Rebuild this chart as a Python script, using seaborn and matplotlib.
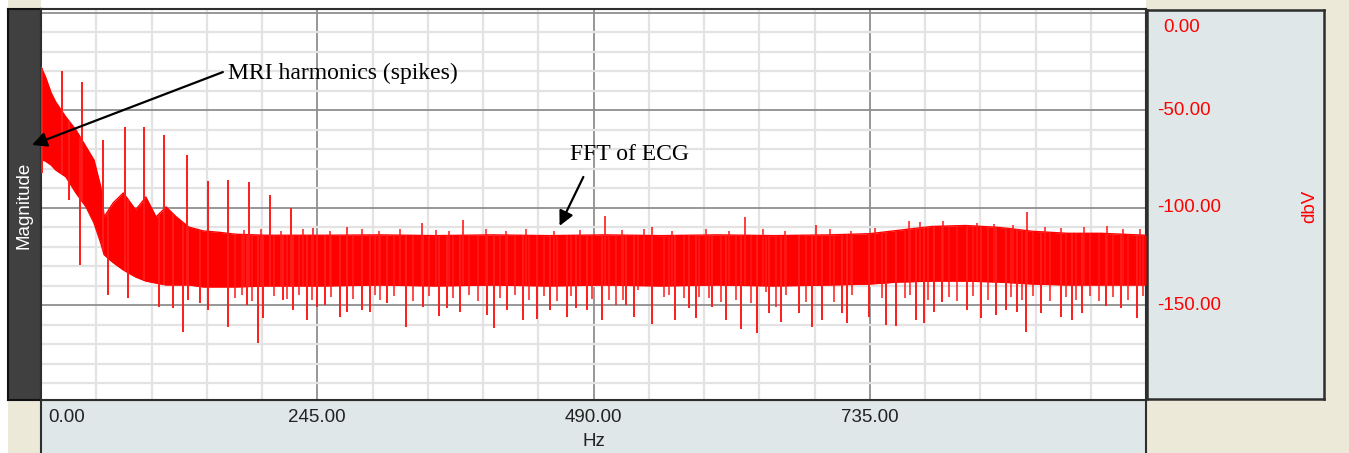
import numpy as np
import matplotlib
matplotlib.use("Agg")
import matplotlib.pyplot as plt
import matplotlib.transforms as mtransforms
from matplotlib.patches import Rectangle
import seaborn as sns

# ---------------- data ----------------
# dense FFT band: frequency (Hz), upper and lower edge (dBV)
env_freq = [0, 4, 9, 13, 22, 31, 40, 47, 53, 56, 64, 73, 84, 93, 102, 111, 120, 131, 144, 158,
            173, 200, 250, 300, 350, 400, 450, 500, 550, 600, 650, 700, 735, 760, 790, 820, 850,
            880, 910, 940, 980]
env_upper = [-27.7, -32.8, -41.0, -45.6, -53.3, -60.0, -68.7, -75.4, -89.2, -104.6, -97.4, -92.3,
             -101.0, -94.4, -104.6, -99.5, -104.6, -109.8, -111.8, -112.5, -113.5, -114.0, -114.0,
             -113.8, -114.2, -113.8, -114.2, -113.8, -114.2, -113.8, -114.2, -113.8, -113.2,
             -111.5, -109.5, -109.0, -110.0, -112.0, -113.0, -113.0, -114.0]
env_lower = [-75.0, -76.0, -78.0, -80.5, -84.0, -92.3, -99.5, -107.7, -118.0, -124.0, -128.0,
             -131.8, -135.4, -137.5, -138.5, -139.5, -139.5, -139.5, -140.5, -140.5, -140.5,
             -140.0, -140.0, -139.5, -140.0, -139.5, -140.0, -139.5, -140.0, -139.5, -140.0,
             -139.5, -139.0, -138.0, -137.5, -137.5, -138.0, -139.0, -139.5, -139.5, -139.5]

# MRI harmonic spikes
harm_freq = [18.6, 36.3, 54.9, 74.4, 91.3, 109.0, 129.4, 148.0, 165.7, 184.3, 202.9, 221.5]
harm_db = [-29.7, -35.4, -65.1, -58.5, -58.5, -62.6, -72.8, -86.2, -85.6, -86.7, -93.3, -100.0]

# isolated spikes above the band
peak_freq = [241.0, 271.0, 337.6, 373.9, 500.6, 542.3, 624.7, 687.6, 874.5]
peak_db = [-110.3, -109.7, -107.7, -106.2, -104.1, -109.7, -104.6, -108.7, -102.0]

# ragged top edge of the band
top_freq = [180, 195, 213, 232, 256, 285, 300, 318, 350, 362, 395, 412, 430, 455, 478, 515, 535,
            560, 590, 610, 640, 660, 700, 718, 740, 770, 780, 800, 830, 845, 862, 890, 905, 925,
            945, 960, 975]
top_db = [-111.5, -110.8, -112.0, -111.0, -111.8, -111.0, -112.0, -110.8, -111.5, -112.0, -110.7,
          -111.8, -111.0, -112.0, -111.2, -111.5, -110.8, -112.0, -111.0, -111.8, -110.8, -111.7,
          -111.0, -112.0, -110.5, -106.5, -107.0, -106.5, -107.8, -108.0, -108.5, -110.0, -110.5,
          -110.0, -109.5, -111.0, -110.8]

# long downward spikes below the band
dip_freq = [0.5, 24.8, 34.6, 59.4, 77.1, 104.6, 117.0, 125.8, 130.2, 140.9, 148.0, 165.7, 182.5,
            192.3, 196.7, 214.4, 223.3, 235.7, 244.6, 251.6, 264.9, 271.1, 284.4, 291.5, 306.6,
            323.4, 338.5, 352.6, 359.7, 371.2, 395.2, 401.4, 412.9, 427.1, 439.5, 451.0, 466.1,
            474.9, 483.8, 497.1, 519.2, 526.3, 542.3, 562.6, 575.0, 581.3, 595.4, 607.8, 621.1,
            635.3, 645.9, 656.6, 672.5, 684.0, 692.9, 710.6, 715.0, 734.5, 749.6, 758.5, 776.2,
            783.3, 792.1, 799.2, 821.4, 833.8, 847.1, 855.9, 865.6, 873.6, 886.9, 904.6, 914.4,
            923.2, 944.5, 957.8, 972.0]
dip_db = [-82.0, -95.9, -129.2, -144.6, -146.2, -150.8, -151.3, -163.6, -147.2, -148.7, -152.3,
          -161.0, -149.7, -169.2, -156.4, -147.2, -152.3, -157.4, -150.8, -149.7, -155.9, -153.4,
          -152.3, -153.4, -148.7, -161.0, -150.8, -155.4, -151.3, -153.4, -154.9, -161.5, -152.3,
          -157.4, -156.9, -152.3, -155.9, -151.3, -152.3, -157.4, -149.7, -155.9, -159.5, -157.4,
          -151.3, -156.4, -150.8, -157.4, -162.0, -164.1, -153.8, -158.5, -153.8, -161.0, -157.4,
          -153.8, -159.0, -155.9, -160.0, -160.5, -157.4, -159.0, -153.4, -148.2, -152.3, -156.4,
          -154.9, -152.3, -153.4, -163.6, -153.8, -155.9, -157.4, -153.8, -150.3, -151.3, -156.4]

# short downward spikes forming the ragged bottom edge
edge_freq = [172, 178, 187, 207, 218, 229, 240, 257, 277, 296, 301, 313, 330, 344, 365, 380, 388,
             407, 420, 433, 446, 458, 470, 489, 504.1, 510.0, 515.9, 529.2, 552.9, 557.3, 570.6,
             583.9, 592.7, 603.1, 616.3, 629.7, 643.0, 651.8, 660.7, 678.4, 703.5, 719.7, 746.3,
             766, 771, 787, 805, 812, 827, 840, 860, 870, 880, 895, 909, 918, 930, 938, 951, 964,
             977]
edge_db = [-146.0, -144.5, -147.5, -145.0, -146.5, -144.5, -147.0, -145.5, -146.5, -144.5, -147.0,
           -145.0, -147.5, -145.0, -146.0, -144.5, -147.5, -146.0, -144.5, -147.0, -145.0, -147.5,
           -145.0, -146.5, -147.2, -149.7, -147.2, -142.0, -145.5, -144.6, -146.3, -145.5, -146.3,
           -148.0, -147.2, -148.9, -142.9, -150.6, -144.6, -148.0, -148.0, -144.6, -146.3,
           -146.0, -144.5, -147.0, -145.5, -147.5, -145.0, -147.0, -145.5, -147.0, -145.0, -147.5,
           -145.5, -147.0, -145.0, -147.5, -145.5, -147.0, -145.0]

x_ticks = [0, 245, 490, 735]
x_tick_labels = ["0.00", "245.00", "490.00", "735.00"]
y_ticks = [0, -50, -100, -150]
y_tick_labels = ["0.00", "-50.00", "-100.00", "-150.00"]

# ---------------- figure ----------------
W, H = 1349, 453
sns.set_theme(style="white")
plt.rcParams["font.family"] = ["Liberation Sans", "DejaVu Sans"]

fig = plt.figure(figsize=(W / 100, H / 100), dpi=100, facecolor="white")

def box(x0, y0, x1, y1):
    return [x0 / W, 1 - y1 / H, (x1 - x0) / W, (y1 - y0) / H]

BEIGE = "#ece9d8"
PANEL = "#dfe7e8"
DARK = "#2e2e2e"
RED = "#ff0000"

fig.patches.append(Rectangle((8 / W, 0), 1 - 8 / W, 1, transform=fig.transFigure,
                             facecolor=BEIGE, edgecolor="none", zorder=-10))
fig.patches.append(Rectangle((41 / W, 1 - 8 / H), (1146 - 41) / W, 8 / H, transform=fig.transFigure,
                             facecolor="white", edgecolor="none", zorder=-9))

# left dark label band
axl = fig.add_axes(box(8, 9, 41, 400))
axl.set_facecolor("#404040")
axl.set_xticks([]); axl.set_yticks([])
for s in axl.spines.values():
    s.set_color("#111111"); s.set_linewidth(1.5)
axl.text(0.5, (400 - 205) / 391, "Magnitude", color="white", rotation=90, ha="center",
         va="center", fontsize=13.5, transform=axl.transAxes)

# bottom axis panel
axb = fig.add_axes(box(41, 400, 1146, 453))
axb.set_facecolor(PANEL)
axb.set_xticks([]); axb.set_yticks([])
for s in axb.spines.values():
    s.set_color(DARK); s.set_linewidth(1.5)
axb.spines["bottom"].set_visible(False)

# right axis panel
axr = fig.add_axes(box(1147, 10, 1324, 399))
axr.set_facecolor(PANEL)
axr.set_xticks([]); axr.set_yticks([])
for s in axr.spines.values():
    s.set_color(DARK); s.set_linewidth(1.8)
axr.text((1310 - 1147) / 177, (399 - 206) / 389, "dbV", color="red", rotation=90,
         ha="center", va="center", fontsize=13.5, transform=axr.transAxes)

# main plot
ax = fig.add_axes(box(41, 9, 1146, 400))
ax.set_facecolor("white")
ax.set_xlim(0, 980)
ax.set_ylim(-198.5, 2.05)
ax.set_xticks(x_ticks)
ax.set_xticks(np.arange(0, 981, 49), minor=True)
ax.set_yticks(y_ticks)
ax.set_yticks(np.arange(-190, 1, 10), minor=True)
ax.tick_params(which="both", length=0, labelbottom=False, labelleft=False)
ax.grid(which="minor", color="#e3e3e3", lw=1.6, zorder=0)
ax.grid(which="major", color="#8f8f8f", lw=1.3, zorder=0)
ax.set_axisbelow(True)
for s in ax.spines.values():
    s.set_color(DARK); s.set_linewidth(1.5)

# trace
ax.fill_between(env_freq, env_lower, env_upper, color=RED, lw=0, zorder=3)
sns.lineplot(x=env_freq, y=env_upper, color=RED, lw=1.0, ax=ax, zorder=3)
sns.lineplot(x=env_freq, y=env_lower, color=RED, lw=1.0, ax=ax, zorder=3)

harm_base = np.interp(harm_freq, env_freq, env_lower)
ax.vlines(harm_freq, harm_base, harm_db, color="#ff1a1a", lw=1.4, zorder=4)
peak_base = np.interp(peak_freq, env_freq, env_lower)
ax.vlines(peak_freq, peak_base, peak_db, color="#ff1a1a", lw=1.2, zorder=4)
top_base = np.interp(top_freq, env_freq, env_lower)
ax.vlines(top_freq, top_base, top_db, color="#ff1a1a", lw=1.1, zorder=4)
dip_base = np.interp(dip_freq, env_freq, env_upper)
ax.vlines(dip_freq, dip_db, dip_base, color="#ff1a1a", lw=1.4, zorder=4)
edge_base = np.interp(edge_freq, env_freq, env_upper)
ax.vlines(edge_freq, edge_db, edge_base, color="#ff1a1a", lw=1.1, zorder=4)

# tick labels
xtr = ax.get_xaxis_transform()
for v, lab in zip(x_ticks, x_tick_labels):
    if v == 0:
        ax.text(6.2, -0.0435, lab, transform=xtr, ha="left", va="center", fontsize=13.5,
                color="#222222", clip_on=False)
    else:
        ax.text(v, -0.0435, lab, transform=xtr, ha="center", va="center", fontsize=13.5,
                color="#222222", clip_on=False)
ax.text(490, -0.105, "Hz", transform=xtr, ha="center", va="center", fontsize=13.5,
        color="#222222", clip_on=False)

ytr = mtransforms.blended_transform_factory(ax.transAxes, ax.transData)
for v, lab in zip(y_ticks, y_tick_labels):
    xpos = (1163 - 41) / 1105 if v >= 0 else (1157 - 41) / 1105
    ax.text(xpos, min(v, -7.2), lab, transform=ytr, ha="left", va="center", fontsize=13.5,
            color="red", clip_on=False)

# annotations
serif = ["Liberation Serif", "DejaVu Serif"]
ax.annotate("", xy=(-8.0, -67.7), xytext=(161.3, -30.3), annotation_clip=False,
            arrowprops=dict(arrowstyle="-|>", color="black", lw=1.6, mutation_scale=22,
                            shrinkA=0, shrinkB=0), zorder=6)
ax.text(165.7, -31.0, "MRI harmonics (spikes)", family=serif, fontsize=17, color="black",
        ha="left", va="center", zorder=6)
ax.annotate("", xy=(459.9, -109.2), xytext=(481.0, -84.1), annotation_clip=False,
            arrowprops=dict(arrowstyle="-|>", color="black", lw=1.6, mutation_scale=22,
                            shrinkA=0, shrinkB=0), zorder=6)
ax.text(469.6, -72.8, "FFT of ECG", family=serif, fontsize=17, color="black",
        ha="left", va="center", zorder=6)

fig.savefig("out.png", dpi=100, facecolor=fig.get_facecolor())
